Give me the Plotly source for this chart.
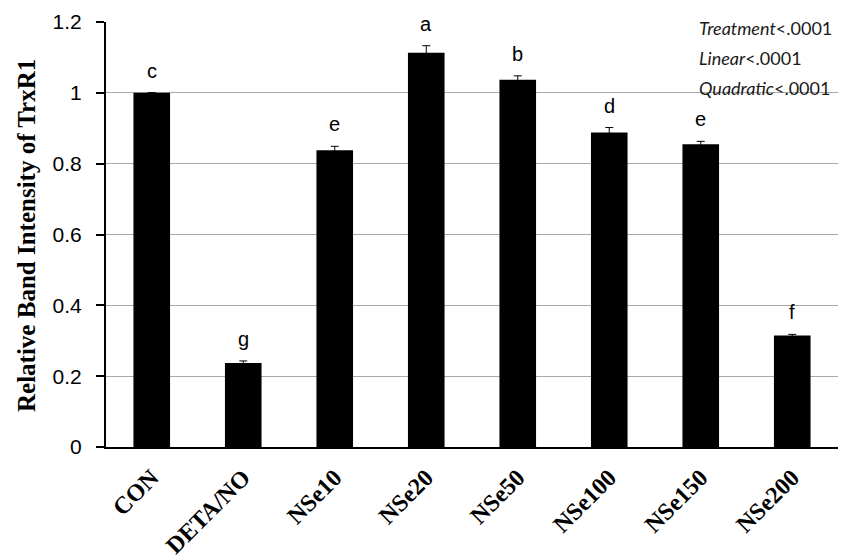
import plotly.graph_objects as go

categories = ["CON", "DETA/NO", "NSe10", "NSe20", "NSe50", "NSe100", "NSe150", "NSe200"]
values = [1.0, 0.237, 0.838, 1.113, 1.037, 0.888, 0.855, 0.315]
errors = [0.0, 0.006, 0.011, 0.02, 0.011, 0.014, 0.008, 0.003]
letters = ["c", "g", "e", "a", "b", "d", "e", "f"]
y_ticks = [0, 0.2, 0.4, 0.6, 0.8, 1.0, 1.2]
y_tick_labels = ["0", "0.2", "0.4", "0.6", "0.8", "1", "1.2"]
stats_names = ["Treatment", "Linear", "Quadratic"]
stats_values = ["<.0001", "<.0001", "<.0001"]

# page body has an 8px margin, so margins are compensated
L, R, T, B = 98, 19, 14, 121
W, H = 849, 560
plot_w = W - L - R
plot_h = H - T - B

fig = go.Figure()
fig.add_trace(go.Bar(
    x=categories, y=values, width=0.4,
    marker=dict(color="black", line=dict(width=0)),
    error_y=dict(type="data", array=errors, visible=True, color="black", thickness=1, width=4),
))

for c, v, e, l in zip(categories, values, errors, letters):
    fig.add_annotation(x=c, y=v + e, text=l, showarrow=False, yanchor="bottom", yshift=9,
                       font=dict(family="Arial, Liberation Sans", size=20, color="black"))

for i, (n, s) in enumerate(zip(stats_names, stats_values)):
    py = 20 + i * 30
    fig.add_annotation(xref="paper", yref="paper", x=(689 - L) / plot_w, y=(H - B - py) / plot_h,
                       xanchor="left", yanchor="middle", showarrow=False,
                       text=f"<i>{n}</i>{s}",
                       font=dict(family="Lato, Open Sans", size=18, color="#1a1a1a"))

fig.add_annotation(xref="paper", yref="paper", x=(18 - L) / plot_w, y=(H - B - 228) / plot_h,
                   xanchor="center", yanchor="middle", showarrow=False, textangle=-90,
                   text="<b>Relative Band Intensity of TrxR1</b>",
                   font=dict(family="Liberation Serif, Times New Roman", size=25, color="black"))

fig.update_layout(
    width=W, height=H,
    margin=dict(l=L, r=R, t=T, b=B, autoexpand=False),
    plot_bgcolor="white", paper_bgcolor="white",
    showlegend=False, bargap=0.6,
    xaxis=dict(
        showline=True, linecolor="black", linewidth=2, ticks="", tickangle=-45,
        automargin=False, ticklabelstandoff=5,
        tickfont=dict(family="Liberation Serif, Times New Roman", size=24, color="black", weight="bold"),
        showgrid=False,
    ),
    yaxis=dict(
        range=[0, 1.2], tickvals=y_ticks, ticktext=y_tick_labels,
        automargin=False,
        showline=True, linecolor="black", linewidth=2, ticks="outside", ticklen=8,
        tickwidth=2, tickcolor="black", ticklabelstandoff=10,
        showgrid=True, gridcolor="#a8a8a8", gridwidth=1,
        tickfont=dict(family="Arial, Liberation Sans", size=21, color="black"),
        zeroline=False,
    ),
)

fig.write_html("out.html")
